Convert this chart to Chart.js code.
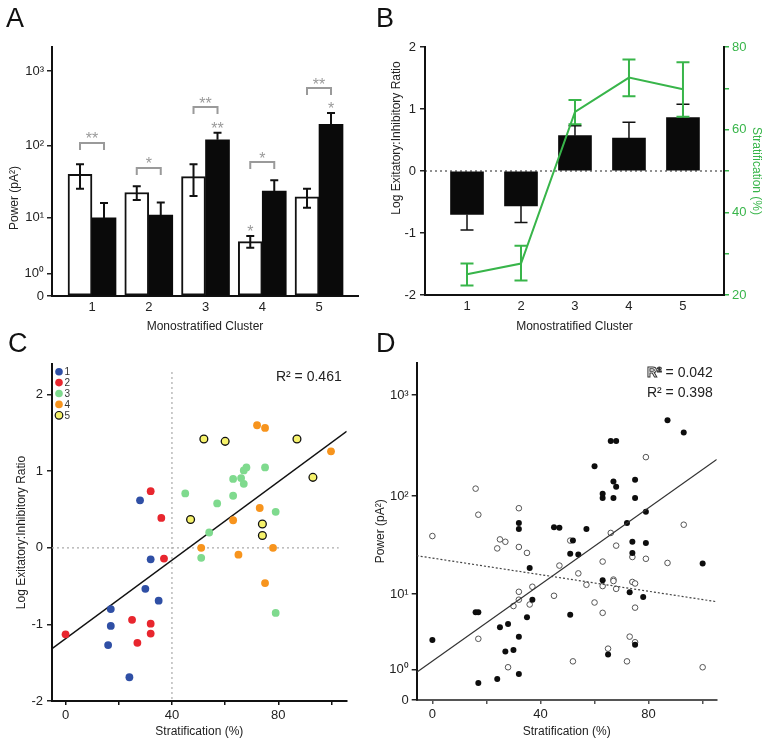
<!DOCTYPE html>
<html>
<head>
<meta charset="utf-8">
<script src="https://cdn.jsdelivr.net/npm/chart.js@4.4.0/dist/chart.umd.min.js"></script>
<style>
    body { margin: 0; background: #fff; font-family: "Liberation Sans", Arial, sans-serif; }
    #page { position: relative; width: 773px; height: 747px; overflow: hidden; }
    .panel { position: absolute; }
    .letter { position: absolute; font-size: 27px; line-height: 1; color: #111; }
</style>
</head>
<body>
<div id="page">
    <div class="panel" style="left:0;top:0;width:390px;height:340px"><canvas id="chartA"></canvas></div>
    <div class="panel" style="left:385px;top:0;width:388px;height:340px"><canvas id="chartB"></canvas></div>
    <div class="panel" style="left:0;top:340px;width:390px;height:407px"><canvas id="chartC"></canvas></div>
    <div class="panel" style="left:368px;top:340px;width:405px;height:407px"><canvas id="chartD"></canvas></div>
    <div class="letter" style="left:6px;top:5px">A</div>
    <div class="letter" style="left:376px;top:5px">B</div>
    <div class="letter" style="left:8px;top:330px">C</div>
    <div class="letter" style="left:376px;top:330px">D</div>
</div>
<script>
// ---------- data ----------
const clusters = [1, 2, 3, 4, 5];

// A: power per cluster (pA^2), open = white bars, filled = black bars
const powerOpen = [41, 23, 38, 4.3, 20];
const powerOpenLow = [26, 18, 20.5, 3.4, 14];
const powerOpenHigh = [56, 28, 56, 5.3, 26];
const powerFilled = [10, 11, 120, 24, 194];
const powerFilledHigh = [16.4, 16.7, 149, 34, 274];
const bracketLevel = [109, 50, 330, 60, 592];
const bracketStars = ['**', '*', '**', '*', '**'];
const barStarCluster = [3, 4, 5];
const barStarSeries = ['filled', 'open', 'filled'];
const barStarText = ['**', '*', '*'];
const powerTicks = [0, 1, 10, 100, 1000];
const powerTickLabels = ['0', '10⁰', '10¹', '10²', '10³'];

// B: log E:I ratio (bars) and stratification (green line)
const eiRatio = [-0.70, -0.565, 0.57, 0.53, 0.86];
const eiRatioErrEnd = [-0.95, -0.83, 0.73, 0.785, 1.075];
const stratMean = [25, 27.6, 64.3, 72.6, 69.8];
const stratLow = [22.3, 23.5, 61.3, 68.1, 63.1];
const stratHigh = [27.6, 31.9, 67.2, 77.0, 76.3];

// C: stratification (%) vs log E:I ratio, per cluster
const c1Strat = [28, 32, 30, 35, 17, 17, 16, 24];
const c1Ratio = [0.62, -0.15, -0.535, -0.69, -0.8, -1.02, -1.27, -1.69];
const c2Strat = [0, 32, 36, 37, 25, 32, 32, 27];
const c2Ratio = [-1.13, 0.74, 0.39, -0.14, -0.94, -0.99, -1.12, -1.24];
const c3Strat = [45, 57, 54, 51, 63, 63, 66, 67, 68, 67, 75, 79, 79];
const c3Ratio = [0.71, 0.58, 0.2, -0.13, 0.9, 0.68, 0.91, 1.01, 1.05, 0.835, 1.05, 0.47, -0.85];
const c4Strat = [72, 75, 99.8, 73, 63, 51, 78, 65, 75];
const c4Ratio = [1.6, 1.565, 1.26, 0.52, 0.36, 0.0, 0.0, -0.09, -0.46];
const c5Strat = [52, 60, 87, 93, 47, 74, 74];
const c5Ratio = [1.42, 1.39, 1.42, 0.92, 0.37, 0.31, 0.16];
const cFitSlope = 0.0256;
const cFitIntercept = -1.186;
const cR2 = '0.461';

// D: stratification (%) vs power (pA^2)
const filledStrat = [0, 17, 16, 17, 25, 28, 27, 30, 24, 32, 32, 35, 37, 36, 32, 32, 45, 47, 52, 51, 54, 51, 57, 60,
    63, 63, 63, 66, 68, 67, 68, 67, 65, 72, 74, 74, 73, 75, 75, 75, 78, 79, 79, 87, 93, 100];
const filledPower = [2.9, 0.47, 6.3, 6.3, 4.2, 4.6, 2.0, 2.1, 0.61, 0.8, 3.2, 5.5, 8.7, 18.9, 54, 47, 49, 48.5, 36, 26.5, 26, 5.9, 47, 198,
    106, 96, 14.1, 352, 352, 140, 124, 96, 1.8, 54, 35, 27, 10.5, 146, 96, 2.5, 9.3, 70, 34, 563, 428, 21];
const openStrat = [0, 16, 17, 17, 25, 27, 24, 32, 32, 35, 32, 32, 30, 37, 36, 28, 45, 47, 51, 54, 57, 52,
    60, 63, 63, 63, 66, 68, 67, 67, 68, 65, 72, 73, 74, 74, 75, 75, 75, 79, 79, 87, 93, 100];
const openPower = [40, 119, 65.5, 3.0, 37, 35, 30, 76, 31, 27, 10.6, 8.7, 7.4, 12, 7.7, 1.1, 9.6, 20, 36, 16.6, 12.6, 1.4,
    8.1, 22, 12.2, 6.2, 43, 32, 14.3, 13.8, 11.4, 2.2, 1.4, 3.2, 24.5, 13.5, 13, 7.1, 2.7, 244, 23.5, 21.3, 52, 1.1];
// fits are straight lines in log10(power + 1) units
const dFilledSlope = 0.01887;
const dFilledIntercept = 0.3815;
const dOpenSlope = -0.00408;
const dOpenIntercept = 1.396;
const dOpenR2 = '0.042';
const dFilledR2 = '0.398';

// ---------- helpers ----------
const FONT = '"Liberation Sans", Arial, sans-serif';
const GREEN = '#38b54a';
const GRAY = '#9a9a9a';
const clusterColors = ['#2f4fa5', '#e8262e', '#7fda8e', '#f7941d', '#f6f26b'];

Chart.defaults.font.family = FONT;
Chart.defaults.color = '#222';
Chart.defaults.animation = false;
Chart.defaults.plugins.legend.display = false;
Chart.defaults.plugins.tooltip.enabled = false;

// power axis is log10(power + 1), so that 0 can be shown
const toAxis = v => Math.log10(v + 1);

function drawVerticalText(ctx, text, x, y, font, color, angle) {
    ctx.save();
    ctx.translate(x, y);
    ctx.rotate(angle);
    ctx.font = font;
    ctx.fillStyle = color;
    ctx.textAlign = 'center';
    ctx.textBaseline = 'middle';
    ctx.fillText(text, 0, 0);
    ctx.restore();
}

function drawErrorBar(ctx, x, yA, yB, cap, color, width, capBoth) {
    ctx.save();
    ctx.strokeStyle = color;
    ctx.lineWidth = width;
    ctx.beginPath();
    ctx.moveTo(x, yA);
    ctx.lineTo(x, yB);
    ctx.moveTo(x - cap / 2, yB);
    ctx.lineTo(x + cap / 2, yB);
    if (capBoth) {
        ctx.moveTo(x - cap / 2, yA);
        ctx.lineTo(x + cap / 2, yA);
    }
    ctx.stroke();
    ctx.restore();
}

function powerAxis(width, max) {
    return {
        min: 0,
        max: max,
        afterFit: s => { s.width = width; },
        afterBuildTicks: s => { s.ticks = powerTicks.map(v => ({ value: toAxis(v) })); },
        ticks: { callback: (v, i) => powerTickLabels[i], font: { size: 13 }, padding: 3 },
        grid: { drawOnChartArea: false, drawTicks: true, tickLength: 5, tickColor: '#222', lineWidth: 1.5 },
        border: { color: '#111', width: 2 }
    };
}

function clusterAxis(min, max, height) {
    return {
        type: 'linear',
        min: min,
        max: max,
        offset: false,
        afterFit: s => { s.height = height; },
        afterBuildTicks: s => { s.ticks = clusters.map(v => ({ value: v })); },
        ticks: { font: { size: 13 }, padding: 4 },
        grid: { display: false, drawTicks: false },
        border: { color: '#111', width: 2 },
        title: { display: true, text: 'Monostratified Cluster', font: { size: 12 }, padding: { top: 0, bottom: 6 } }
    };
}

function stratAxis(min, max, height, color) {
    return {
        type: 'linear',
        min: min,
        max: max,
        afterFit: s => { s.height = height; },
        afterBuildTicks: s => { s.ticks = [0, 20, 40, 60, 80, 100].map(v => ({ value: v })); },
        ticks: { callback: v => (v % 40 === 0 ? v : ''), font: { size: 13 }, padding: 3, maxRotation: 0, autoSkip: false },
        grid: { drawOnChartArea: false, drawTicks: true, tickLength: 4, tickColor: color, lineWidth: 1.5 },
        border: { color: color, width: 2 },
        title: { display: true, text: 'Stratification (%)', font: { size: 12 }, padding: { top: 0, bottom: 8 } }
    };
}

// ---------- A ----------
const panelAExtras = {
    id: 'panelAExtras',
    afterDatasetsDraw(chart) {
        const { ctx, scales: { y } } = chart;
        const openMeta = chart.getDatasetMeta(0);
        const filledMeta = chart.getDatasetMeta(1);
        const tops = { open: [], filled: [] };

        clusters.forEach((c, i) => {
            const xo = openMeta.data[i].x;
            const xf = filledMeta.data[i].x;
            const yoLow = y.getPixelForValue(toAxis(powerOpenLow[i]));
            const yoHigh = y.getPixelForValue(toAxis(powerOpenHigh[i]));
            drawErrorBar(ctx, xo, yoLow, yoHigh, 8, '#111', 2, true);
            const yfHigh = y.getPixelForValue(toAxis(powerFilledHigh[i]));
            drawErrorBar(ctx, xf, filledMeta.data[i].y, yfHigh, 8, '#111', 2, false);
            tops.open.push(yoHigh);
            tops.filled.push(yfHigh);

            // significance bracket between the two bars
            const yb = y.getPixelForValue(toAxis(bracketLevel[i]));
            ctx.save();
            ctx.strokeStyle = GRAY;
            ctx.lineWidth = 2;
            ctx.beginPath();
            ctx.moveTo(xo, yb + 7);
            ctx.lineTo(xo, yb);
            ctx.lineTo(xf, yb);
            ctx.lineTo(xf, yb + 7);
            ctx.stroke();
            ctx.fillStyle = GRAY;
            ctx.font = '16px ' + FONT;
            ctx.textAlign = 'center';
            ctx.textBaseline = 'alphabetic';
            ctx.fillText(bracketStars[i], (xo + xf) / 2, yb + 1.5);
            ctx.restore();
        });

        barStarCluster.forEach((c, k) => {
            const i = clusters.indexOf(c);
            const meta = barStarSeries[k] === 'open' ? openMeta : filledMeta;
            const yTop = tops[barStarSeries[k]][i];
            ctx.save();
            ctx.fillStyle = GRAY;
            ctx.font = '16px ' + FONT;
            ctx.textAlign = 'center';
            ctx.fillText(barStarText[k], meta.data[i].x, yTop + 1);
            ctx.restore();
        });

        drawVerticalText(ctx, 'Power (pA²)', 15, 198, '12px ' + FONT, '#222', -Math.PI / 2);
    }
};

new Chart(document.getElementById('chartA'), {
    type: 'bar',
    data: {
        datasets: [
            {
                label: 'open',
                data: clusters.map((c, i) => ({ x: c, y: toAxis(powerOpen[i]) })),
                backgroundColor: '#fff',
                borderColor: '#111',
                borderWidth: 2,
                borderSkipped: false,
                barThickness: 24
            },
            {
                label: 'filled',
                data: clusters.map((c, i) => ({ x: c, y: toAxis(powerFilled[i]) })),
                backgroundColor: '#0a0a0a',
                borderColor: '#0a0a0a',
                borderWidth: 0,
                barThickness: 24
            }
        ]
    },
    options: {
        responsive: true,
        maintainAspectRatio: false,
        layout: { padding: { top: 47, right: 32, left: 0, bottom: 0 } },
        scales: {
            x: clusterAxis(0.295, 5.687, 44),
            y: powerAxis(52, 3.32)
        }
    },
    plugins: [panelAExtras]
});

// ---------- B ----------
const panelBExtras = {
    id: 'panelBExtras',
    beforeDatasetsDraw(chart) {
        const { ctx, chartArea, scales: { y } } = chart;
        const y0 = y.getPixelForValue(0);
        ctx.save();
        ctx.strokeStyle = '#222';
        ctx.lineWidth = 1;
        ctx.setLineDash([2, 3]);
        ctx.beginPath();
        ctx.moveTo(chartArea.left, y0);
        ctx.lineTo(chartArea.right, y0);
        ctx.stroke();
        ctx.restore();
    },
    afterDatasetDraw(chart, args) {
        if (args.index !== 0) return;
        const { ctx, scales: { y } } = chart;
        args.meta.data.forEach((bar, i) => {
            drawErrorBar(ctx, bar.x, bar.y, y.getPixelForValue(eiRatioErrEnd[i]), 13, '#111', 1.5, false);
        });
    },
    afterDatasetsDraw(chart) {
        const { ctx, chartArea, scales: { y2 } } = chart;
        chart.getDatasetMeta(1).data.forEach((pt, i) => {
            drawErrorBar(ctx, pt.x, y2.getPixelForValue(stratLow[i]), y2.getPixelForValue(stratHigh[i]), 13, GREEN, 2, true);
        });
        drawVerticalText(ctx, 'Log Exitatory:Inhibitory Ratio', 12, 138, '12px ' + FONT, '#222', -Math.PI / 2);
    }
};

new Chart(document.getElementById('chartB'), {
    type: 'bar',
    data: {
        datasets: [
            {
                type: 'bar',
                label: 'E:I ratio',
                data: clusters.map((c, i) => ({ x: c, y: eiRatio[i] })),
                backgroundColor: '#0a0a0a',
                borderWidth: 0,
                barThickness: 33,
                yAxisID: 'y',
                order: 2
            },
            {
                type: 'line',
                label: 'Stratification',
                data: clusters.map((c, i) => ({ x: c, y: stratMean[i] })),
                borderColor: GREEN,
                borderWidth: 2,
                pointRadius: 0,
                yAxisID: 'y2',
                order: 1
            }
        ]
    },
    options: {
        responsive: true,
        maintainAspectRatio: false,
        layout: { padding: { top: 47, right: 0, left: 0, bottom: 0 } },
        scales: {
            x: clusterAxis(0.222, 5.76, 45),
            y: {
                min: -2,
                max: 2,
                afterFit: s => { s.width = 40; },
                ticks: { stepSize: 1, font: { size: 13 }, padding: 4 },
                grid: { drawOnChartArea: false, drawTicks: true, tickLength: 5, tickColor: '#222', lineWidth: 1.5 },
                border: { color: '#111', width: 2 }
            },
            y2: {
                position: 'right',
                min: 20,
                max: 80,
                afterFit: s => { s.width = 49; },
                ticks: { stepSize: 10, callback: v => (v % 20 === 0 ? v : ''), color: GREEN, font: { size: 13 }, padding: 3 },
                grid: { drawOnChartArea: false, drawTicks: true, tickLength: 5, tickColor: GREEN, lineWidth: 1.5 },
                border: { color: '#111', width: 2 },
                title: { display: true, text: 'Stratification (%)', color: GREEN, font: { size: 12 }, padding: { top: 9, bottom: 0 } }
            }
        }
    },
    plugins: [panelBExtras]
});

// ---------- C ----------
const cStrat = [c1Strat, c2Strat, c3Strat, c4Strat, c5Strat];
const cRatio = [c1Ratio, c2Ratio, c3Ratio, c4Ratio, c5Ratio];
const cXMin = -5.1, cXMax = 105.7;

const panelCExtras = {
    id: 'panelCExtras',
    beforeDatasetsDraw(chart) {
        const { ctx, chartArea, scales: { x, y } } = chart;
        ctx.save();
        ctx.strokeStyle = '#aaa';
        ctx.lineWidth = 1.2;
        ctx.setLineDash([2, 3]);
        ctx.beginPath();
        ctx.moveTo(x.getPixelForValue(40), chartArea.top + 8);
        ctx.lineTo(x.getPixelForValue(40), chartArea.bottom);
        ctx.moveTo(chartArea.left, y.getPixelForValue(0));
        ctx.lineTo(chartArea.right - 8, y.getPixelForValue(0));
        ctx.stroke();
        ctx.restore();
    },
    afterDraw(chart) {
        const { ctx, chartArea } = chart;
        ctx.save();
        clusters.forEach((c, i) => {
            const cy = chartArea.top + 7.7 + i * 10.9;
            ctx.beginPath();
            ctx.arc(chartArea.left + 7, cy, 3.8, 0, Math.PI * 2);
            ctx.fillStyle = clusterColors[i];
            ctx.fill();
            if (i === 4) { ctx.strokeStyle = '#111'; ctx.lineWidth = 1.2; ctx.stroke(); }
            ctx.fillStyle = '#333';
            ctx.font = '10px ' + FONT;
            ctx.textAlign = 'left';
            ctx.textBaseline = 'middle';
            ctx.fillText(String(c), chartArea.left + 12.5, cy + 0.5);
        });
        ctx.font = '14px ' + FONT;
        ctx.fillStyle = '#222';
        ctx.textAlign = 'right';
        ctx.textBaseline = 'alphabetic';
        ctx.fillText('R² = ' + cR2, chartArea.right - 5, chartArea.top + 17);
        ctx.restore();
    }
};

const cDatasets = clusters.map((c, i) => ({
    label: String(c),
    data: cStrat[i].map((s, j) => ({ x: s, y: cRatio[i][j] })),
    backgroundColor: clusterColors[i],
    borderColor: i === 4 ? '#111' : clusterColors[i],
    borderWidth: i === 4 ? 1.3 : 0,
    pointRadius: 3.9
}));
cDatasets.push({
    type: 'line',
    label: 'fit',
    data: [cXMin, cXMax].map(s => ({ x: s, y: cFitIntercept + cFitSlope * s })),
    borderColor: '#111',
    borderWidth: 1.5,
    pointRadius: 0
});

new Chart(document.getElementById('chartC'), {
    type: 'scatter',
    data: { datasets: cDatasets },
    options: {
        responsive: true,
        maintainAspectRatio: false,
        layout: { padding: { top: 24, right: 43.3, left: 0, bottom: 0 } },
        scales: {
            x: stratAxis(cXMin, cXMax, 46, '#111'),
            y: {
                min: -2,
                max: 2.4,
                afterFit: s => { s.width = 52; },
                afterBuildTicks: s => { s.ticks = [-2, -1, 0, 1, 2].map(v => ({ value: v })); },
                ticks: { font: { size: 13 }, padding: 4 },
                grid: { drawOnChartArea: false, drawTicks: true, tickLength: 5, tickColor: '#222', lineWidth: 1.5 },
                border: { color: '#111', width: 2 },
                title: { display: true, text: 'Log Exitatory:Inhibitory Ratio', font: { size: 12 }, padding: { top: 14, bottom: 0 } }
            }
        }
    },
    plugins: [panelCExtras]
});

// ---------- D ----------
const dXMin = -5.8, dXMax = 105.2;

const panelDExtras = {
    id: 'panelDExtras',
    afterDraw(chart) {
        const { ctx, chartArea } = chart;
        const rows = [
            { value: dOpenR2, hollow: true, dy: 14 },
            { value: dFilledR2, hollow: false, dy: 34 }
        ];
        ctx.save();
        ctx.textBaseline = 'alphabetic';
        ctx.textAlign = 'left';
        rows.forEach(r => {
            const rest = ' = ' + r.value;
            ctx.font = (r.hollow ? 'bold ' : '') + '14px ' + FONT;
            const wR = ctx.measureText('R²').width;
            ctx.font = '14px ' + FONT;
            const wRest = ctx.measureText(rest).width;
            const x0 = chartArea.right - 4 - wR - wRest;
            const yb = chartArea.top + r.dy;
            if (r.hollow) {
                ctx.font = 'bold 14px ' + FONT;
                ctx.strokeStyle = '#333';
                ctx.lineWidth = 1;
                ctx.strokeText('R²', x0, yb);
            } else {
                ctx.font = '14px ' + FONT;
                ctx.fillStyle = '#222';
                ctx.fillText('R²', x0, yb);
            }
            ctx.font = '14px ' + FONT;
            ctx.fillStyle = '#222';
            ctx.fillText(rest, x0 + wR, yb);
        });
        ctx.restore();
    }
};

new Chart(document.getElementById('chartD'), {
    type: 'scatter',
    data: {
        datasets: [
            {
                type: 'line',
                label: 'open fit',
                data: [dXMin, dXMax].map(s => ({ x: s, y: dOpenIntercept + dOpenSlope * s })),
                borderColor: '#444',
                borderWidth: 1.2,
                borderDash: [2, 2],
                pointRadius: 0
            },
            {
                type: 'line',
                label: 'filled fit',
                data: [dXMin, dXMax].map(s => ({ x: s, y: dFilledIntercept + dFilledSlope * s })),
                borderColor: '#333',
                borderWidth: 1.2,
                pointRadius: 0
            },
            {
                label: 'filled',
                data: filledStrat.map((s, j) => ({ x: s, y: toAxis(filledPower[j]) })),
                backgroundColor: '#0d0d0d',
                borderColor: '#0d0d0d',
                borderWidth: 0,
                pointRadius: 3
            },
            {
                label: 'open',
                data: openStrat.map((s, j) => ({ x: s, y: toAxis(openPower[j]) })),
                backgroundColor: '#fff',
                borderColor: '#555',
                borderWidth: 1,
                pointRadius: 2.8
            }
        ]
    },
    options: {
        responsive: true,
        maintainAspectRatio: false,
        layout: { padding: { top: 22.7, right: 56.3, left: 0, bottom: 0 } },
        scales: {
            x: stratAxis(dXMin, dXMax, 47, '#555'),
            y: Object.assign(powerAxis(48.7, 3.318), {
                title: { display: true, text: 'Power (pA²)', font: { size: 12 }, padding: { top: 5, bottom: 0 } }
            })
        }
    },
    plugins: [panelDExtras]
});
</script>
</body>
</html>
